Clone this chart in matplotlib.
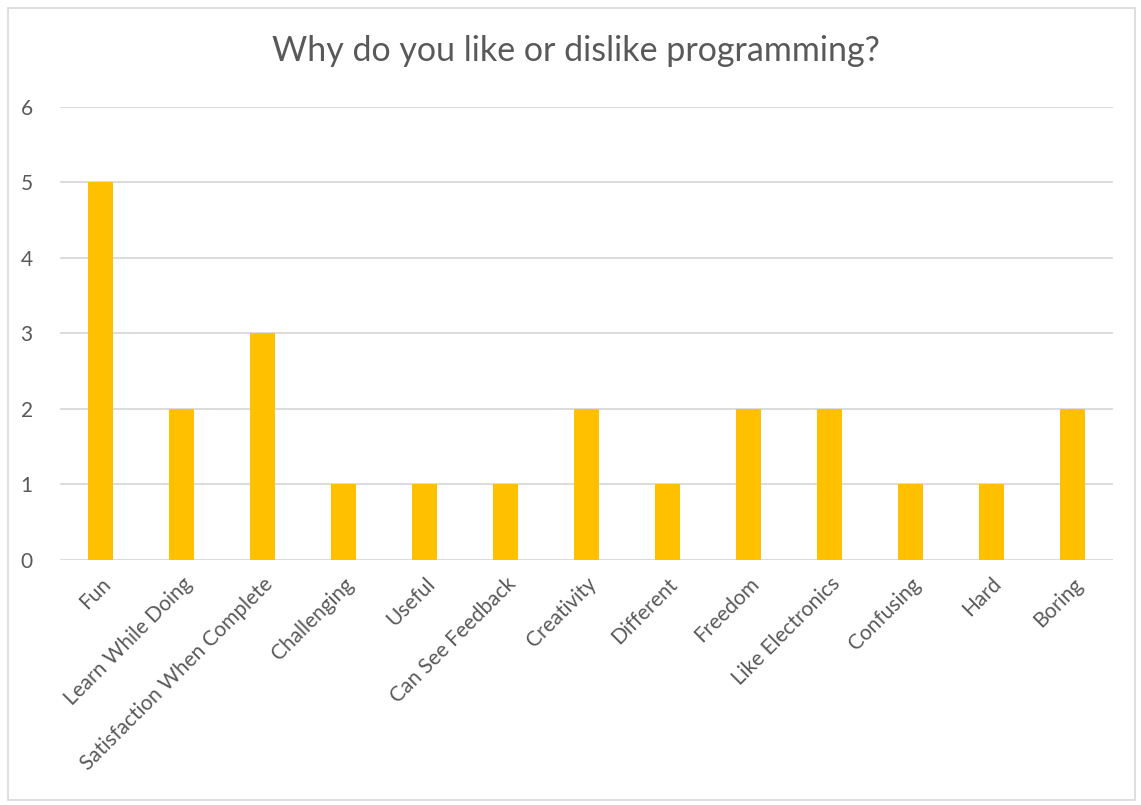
import matplotlib
matplotlib.use("Agg")
import matplotlib.pyplot as plt
from matplotlib.patches import Rectangle

categories = ["Fun", "Learn While Doing", "Satisfaction When Complete", "Challenging",
              "Useful", "Can See Feedback", "Creativity", "Different", "Freedom",
              "Like Electronics", "Confusing", "Hard", "Boring"]
counts = [5, 2, 3, 1, 1, 1, 2, 1, 2, 2, 1, 1, 2]
y_ticks = [0, 1, 2, 3, 4, 5, 6]

W, H = 1141, 805
fig = plt.figure(figsize=(W / 100, H / 100), dpi=100)
plt.rcParams['font.family'] = ['Lato', 'DejaVu Sans']

# plot area in pixel coords
left, right, top, bottom = 60, 1113, 106.7, 560
ax = fig.add_axes([left / W, 1 - bottom / H, (right - left) / W, (bottom - top) / H])

x = list(range(len(categories)))
ax.bar(x, counts, width=0.31, color='#FFC000', zorder=3)
ax.set_xlim(-0.5, len(categories) - 0.5)
ax.set_ylim(0, 6)
ax.set_yticks(y_ticks)
ax.yaxis.grid(True, color='#D9D9D9', linewidth=1.3, zorder=0)
for s in ax.spines.values():
    s.set_visible(False)
ax.tick_params(axis='both', length=0, colors='#595959', labelsize=15)
ax.tick_params(axis='y', pad=23)
ax.set_yticklabels([str(v) for v in y_ticks], ha='center')
ax.tick_params(axis='y', pad=24)
ax.set_xticks(x)
ax.set_xticklabels(categories, rotation=45, ha='right', rotation_mode='anchor')
ax.tick_params(axis='x', pad=10)

fig.text(576 / W, 1 - 51 / H, "Why do you like or dislike programming?",
         ha='center', va='center', fontsize=24.5, color='#595959')

# outer chart border
fig.patches.append(Rectangle((8 / W, 5 / H), 1127 / W, 792 / H, transform=fig.transFigure,
                             fill=False, edgecolor='#D9D9D9', linewidth=1.2))

fig.savefig("out.png", dpi=100)
